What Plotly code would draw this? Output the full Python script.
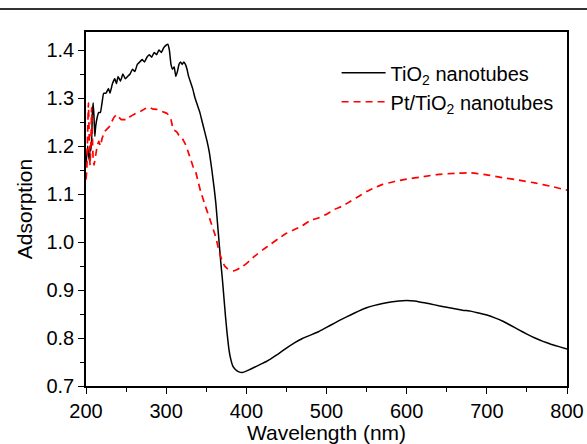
import plotly.graph_objects as go

# ---- data ----
tio2_wl = [200, 202, 204, 205, 206, 207, 208, 209, 210, 211, 212, 214, 216, 218, 220, 222, 225, 228, 230,
           233, 236, 238, 240, 243, 246, 249, 252, 255, 258, 261, 264, 267, 270, 273, 276, 279, 282, 285,
           288, 291, 294, 297, 300, 302, 304, 306, 308, 310, 312, 314, 316, 318, 320, 322, 324, 326, 328,
           330, 333, 336, 339, 342, 345, 348, 351, 354, 357, 360, 362, 364, 366, 368, 370, 372, 374, 376,
           378, 380, 383, 386, 390, 395, 400, 405, 410, 415, 420, 425, 430, 440, 450, 460, 470, 480, 490,
           500, 510, 520, 530, 540, 550, 560, 570, 580, 590, 600, 610, 620, 630, 640, 650, 660, 670, 680,
           690, 700, 710, 720, 730, 740, 750, 760, 770, 780, 790, 800]
tio2_abs = [1.16, 1.20, 1.17, 1.20, 1.19, 1.21, 1.27, 1.29, 1.26, 1.22, 1.24, 1.26, 1.27, 1.27, 1.29, 1.31,
            1.31, 1.32, 1.31, 1.33, 1.34, 1.33, 1.345, 1.335, 1.35, 1.34, 1.345, 1.35, 1.36, 1.355, 1.37,
            1.375, 1.38, 1.375, 1.385, 1.39, 1.385, 1.395, 1.39, 1.40, 1.395, 1.405, 1.41, 1.412, 1.40,
            1.37, 1.36, 1.365, 1.345, 1.355, 1.37, 1.375, 1.37, 1.375, 1.37, 1.36, 1.345, 1.335, 1.32,
            1.30, 1.285, 1.27, 1.25, 1.23, 1.21, 1.185, 1.15, 1.11, 1.08, 1.04, 1.00, 0.96, 0.925, 0.885,
            0.845, 0.81, 0.78, 0.76, 0.742, 0.735, 0.73, 0.728, 0.731, 0.735, 0.739, 0.743, 0.747, 0.751,
            0.756, 0.767, 0.779, 0.79, 0.799, 0.806, 0.813, 0.822, 0.831, 0.84, 0.848, 0.856, 0.863, 0.868,
            0.872, 0.875, 0.877, 0.878, 0.877, 0.874, 0.871, 0.867, 0.864, 0.861, 0.858, 0.856, 0.852,
            0.848, 0.842, 0.835, 0.826, 0.817, 0.808, 0.800, 0.793, 0.787, 0.782, 0.777]

pt_wl = [200, 201, 202, 203, 204, 205, 206, 207, 208, 209, 210, 212, 214, 216, 218, 220, 223, 226, 229,
         232, 235, 238, 241, 244, 247, 250, 253, 256, 259, 262, 265, 268, 271, 274, 277, 280, 283, 286,
         289, 292, 295, 298, 301, 304, 306, 308, 310, 313, 316, 319, 322, 325, 328, 331, 334, 337, 340,
         343, 346, 349, 352, 355, 358, 361, 364, 367, 370, 373, 376, 380, 384, 388, 392, 396, 400, 405,
         410, 420, 430, 440, 450, 460, 470, 480, 490, 500, 510, 520, 530, 540, 550, 560, 570, 580, 590,
         600, 620, 640, 660, 680, 700, 720, 740, 760, 780, 800]
pt_abs = [1.13, 1.15, 1.22, 1.29, 1.22, 1.16, 1.20, 1.28, 1.22, 1.17, 1.16, 1.18, 1.20, 1.21, 1.20, 1.215,
          1.23, 1.235, 1.24, 1.25, 1.26, 1.265, 1.26, 1.255, 1.255, 1.255, 1.26, 1.262, 1.265, 1.268, 1.27,
          1.272, 1.275, 1.278, 1.28, 1.28, 1.277, 1.277, 1.276, 1.274, 1.272, 1.27, 1.268, 1.262, 1.255,
          1.24, 1.233, 1.23, 1.222, 1.219, 1.21, 1.20, 1.185, 1.17, 1.155, 1.145, 1.125, 1.105, 1.09,
          1.074, 1.06, 1.045, 1.03, 1.015, 0.995, 0.975, 0.96, 0.95, 0.945, 0.941, 0.94, 0.942, 0.946,
          0.95, 0.955, 0.962, 0.97, 0.983, 0.995, 1.007, 1.018, 1.026, 1.034, 1.045, 1.05, 1.058, 1.068,
          1.075, 1.085, 1.095, 1.105, 1.113, 1.12, 1.124, 1.128, 1.131, 1.136, 1.141, 1.143, 1.144, 1.14,
          1.134, 1.129, 1.123, 1.116, 1.108]

x_ticks = [200, 300, 400, 500, 600, 700, 800]
y_ticks = [0.7, 0.8, 0.9, 1.0, 1.1, 1.2, 1.3, 1.4]
y_tick_text = ["0.7", "0.8", "0.9", "1.0", "1.1", "1.2", "1.3", "1.4"]

FONT = "Liberation Sans, Arial, sans-serif"

fig = go.Figure()
fig.add_trace(go.Scatter(x=tio2_wl, y=tio2_abs, mode="lines", name="TiO<sub>2</sub> nanotubes",
                         line=dict(color="black", width=1.5, shape="spline", smoothing=0.3)))
fig.add_trace(go.Scatter(x=pt_wl, y=pt_abs, mode="lines", name="Pt/TiO<sub>2</sub> nanotubes",
                         line=dict(color="#ff0000", width=1.7, dash="7px,5px", shape="spline", smoothing=0.3)))

axis_common = dict(showline=True, linecolor="black", linewidth=1.5, mirror=True,
                   ticks="outside", ticklen=6, tickwidth=1.3, tickcolor="black",
                   showgrid=False, zeroline=False, automargin=False,
                   tickfont=dict(family=FONT, size=20, color="black"))

fig.update_xaxes(range=[200, 800], tickvals=x_ticks,
                 title=dict(text="Wavelength (nm)", font=dict(family=FONT, size=21, color="black"), standoff=4),
                 minor=dict(dtick=50, ticks="outside", ticklen=4, tickwidth=1.2, tickcolor="black"),
                 **axis_common)
fig.update_yaxes(range=[0.7, 1.4375], tickvals=y_ticks, ticktext=y_tick_text,
                 title=dict(text="Adsorption", font=dict(family=FONT, size=21, color="black"), standoff=8),
                 minor=dict(dtick=0.05, tick0=0.7, ticks="outside", ticklen=4, tickwidth=1.2, tickcolor="black"),
                 **axis_common)

fig.update_layout(
    width=587, height=444,
    margin=dict(l=86, r=20, t=32, b=58),
    paper_bgcolor="white", plot_bgcolor="white",
    font=dict(family=FONT, size=20, color="black"),
    showlegend=True,
    legend=dict(x=0.521, y=0.94, xanchor="left", yanchor="top", bgcolor="rgba(0,0,0,0)",
                font=dict(family=FONT, size=20, color="black"), itemwidth=44, tracegroupgap=0),
    shapes=[dict(type="line", xref="paper", yref="paper", x0=-86/481, x1=1+20/481,
                 y0=1+23/354, y1=1+23/354, line=dict(color="#333333", width=2))],
)

fig.write_html("out.html")
